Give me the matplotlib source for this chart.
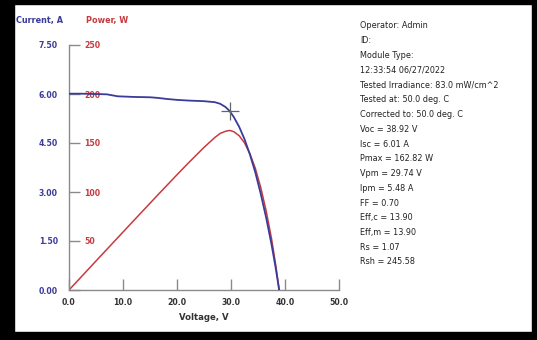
import matplotlib
matplotlib.use("Agg")
import matplotlib.pyplot as plt
from matplotlib.patches import Rectangle

# ---- data ----
voltage = [0.0, 2.0, 5.0, 7.0, 8.0, 9.0, 12.0, 15.0, 16.5, 18.0, 20.0, 22.0, 25.0,
           27.0, 28.0, 29.0, 29.74, 30.5, 31.5, 32.5, 33.5, 34.5, 35.5, 36.5, 37.5,
           38.3, 38.92]
current = [6.01, 6.01, 6.00, 5.99, 5.96, 5.93, 5.91, 5.90, 5.88, 5.85, 5.82, 5.80,
           5.78, 5.75, 5.70, 5.60, 5.48, 5.30, 5.00, 4.62, 4.15, 3.60, 2.95, 2.22,
           1.40, 0.65, 0.0]
power = [0.0, 11.8, 29.6, 41.4, 47.3, 53.2, 70.9, 88.5, 97.3, 106.0, 117.6, 129.0,
         145.5, 155.6, 159.8, 162.0, 162.82, 161.6, 157.5, 150.2, 139.0, 124.2,
         104.7, 81.0, 52.5, 24.9, 0.0]
vpm, ipm = 29.74, 5.48

x_ticks = [0, 10, 20, 30, 40, 50]
x_labels = ["0.0", "10.0", "20.0", "30.0", "40.0", "50.0"]
i_ticks = [0, 1.5, 3.0, 4.5, 6.0, 7.5]
i_labels = ["0.00", "1.50", "3.00", "4.50", "6.00", "7.50"]
p_ticks = [50, 100, 150, 200, 250]
p_labels = ["50", "100", "150", "200", "250"]

info_lines = [
    "Operator: Admin", "ID:", "Module Type:", "12:33:54 06/27/2022",
    "Tested Irradiance: 83.0 mW/cm^2", "Tested at: 50.0 deg. C",
    "Corrected to: 50.0 deg. C", "Voc = 38.92 V", "Isc = 6.01 A",
    "Pmax = 162.82 W", "Vpm = 29.74 V", "Ipm = 5.48 A", "FF = 0.70",
    "Eff,c = 13.90", "Eff,m = 13.90", "Rs = 1.07", "Rsh = 245.58",
]

BLUE = "#3b3b9a"
RED = "#c83a3e"
GRAY = "#8a8a8a"
plt.rcParams["font.family"] = ["DejaVu Sans"]
plt.rcParams["font.stretch"] = "condensed"
COND = dict(fontstretch="condensed")

W, H = 537, 340
fig = plt.figure(figsize=(W / 100, H / 100), dpi=100)
fig.patch.set_facecolor("white")

def fx(px):
    return px / W

def fy(py):
    return 1 - py / H

ax_l, ax_r, ax_t, ax_b = 69, 339, 45, 290
ax = fig.add_axes([fx(ax_l), fy(ax_b), fx(ax_r - ax_l), (ax_b - ax_t) / H])
ax2 = ax.twinx()

ax.set_xlim(0, 50)
ax.set_ylim(0, 7.5)
ax2.set_ylim(0, 250)

for s in ["top", "right"]:
    ax.spines[s].set_visible(False)
for s in ["top", "right", "left", "bottom"]:
    ax2.spines[s].set_visible(False)
for s in ["left", "bottom"]:
    ax.spines[s].set_color(GRAY)
    ax.spines[s].set_linewidth(1.0)

TICK_FS = 6.2
ax.set_xticks(x_ticks)
ax.set_xticklabels(x_labels)
ax.set_yticks(i_ticks)
ax.set_yticklabels(i_labels)
ax.tick_params(axis="x", direction="in", length=8, width=1.0, color=GRAY,
               labelsize=TICK_FS, pad=6, labelcolor="#333333")
ax.tick_params(axis="y", direction="in", length=8, width=1.0, color=GRAY,
               labelsize=TICK_FS, pad=8, labelcolor=BLUE)
for lab in ax.get_xticklabels() + ax.get_yticklabels():
    lab.set_fontweight("bold")
    lab.set_fontstretch("condensed")

ax2.yaxis.tick_left()
ax2.set_yticks(p_ticks)
ax2.set_yticklabels(p_labels)
ax2.tick_params(axis="y", direction="in", length=0, labelsize=TICK_FS, pad=-11,
                labelcolor=RED)
for lab in ax2.get_yticklabels():
    lab.set_horizontalalignment("left")
    lab.set_fontweight("bold")
    lab.set_fontstretch("condensed")

ax2.plot(voltage, power, color=RED, lw=1.1, zorder=3)
ax.plot(voltage, current, color=BLUE, lw=1.3, zorder=4)
ax.set_zorder(ax2.get_zorder() + 1)
ax.patch.set_visible(False)
ax.plot([vpm], [ipm], marker="+", markersize=13, mew=0.9, color="#666666",
        zorder=5)

ax.set_xlabel("Voltage, V", fontsize=6.8, fontweight="bold", color="#333333",
              labelpad=4, **COND)

fig.text(fx(16), fy(20), "Current, A", color=BLUE, fontsize=6.5,
         fontweight="bold", va="center", ha="left", **COND)
fig.text(fx(86), fy(20), "Power, W", color=RED, fontsize=6.5,
         fontweight="bold", va="center", ha="left", **COND)

for i, line in enumerate(info_lines):
    fig.text(fx(360), fy(26 + 14.75 * i), line, fontsize=6.5, color="#222222",
             va="center", ha="left", **COND)

# black frame around the picture
frame = [(0, 0, 14, H), (0, 0, W, 4), (W - 5, 0, 5, H), (0, H - 8, W, 8)]
for x0, y0, w, h in frame:
    fig.patches.append(Rectangle((fx(x0), fy(y0 + h)), fx(w), h / H,
                                 transform=fig.transFigure, color="black",
                                 zorder=10))

fig.savefig("out.png", dpi=100)
